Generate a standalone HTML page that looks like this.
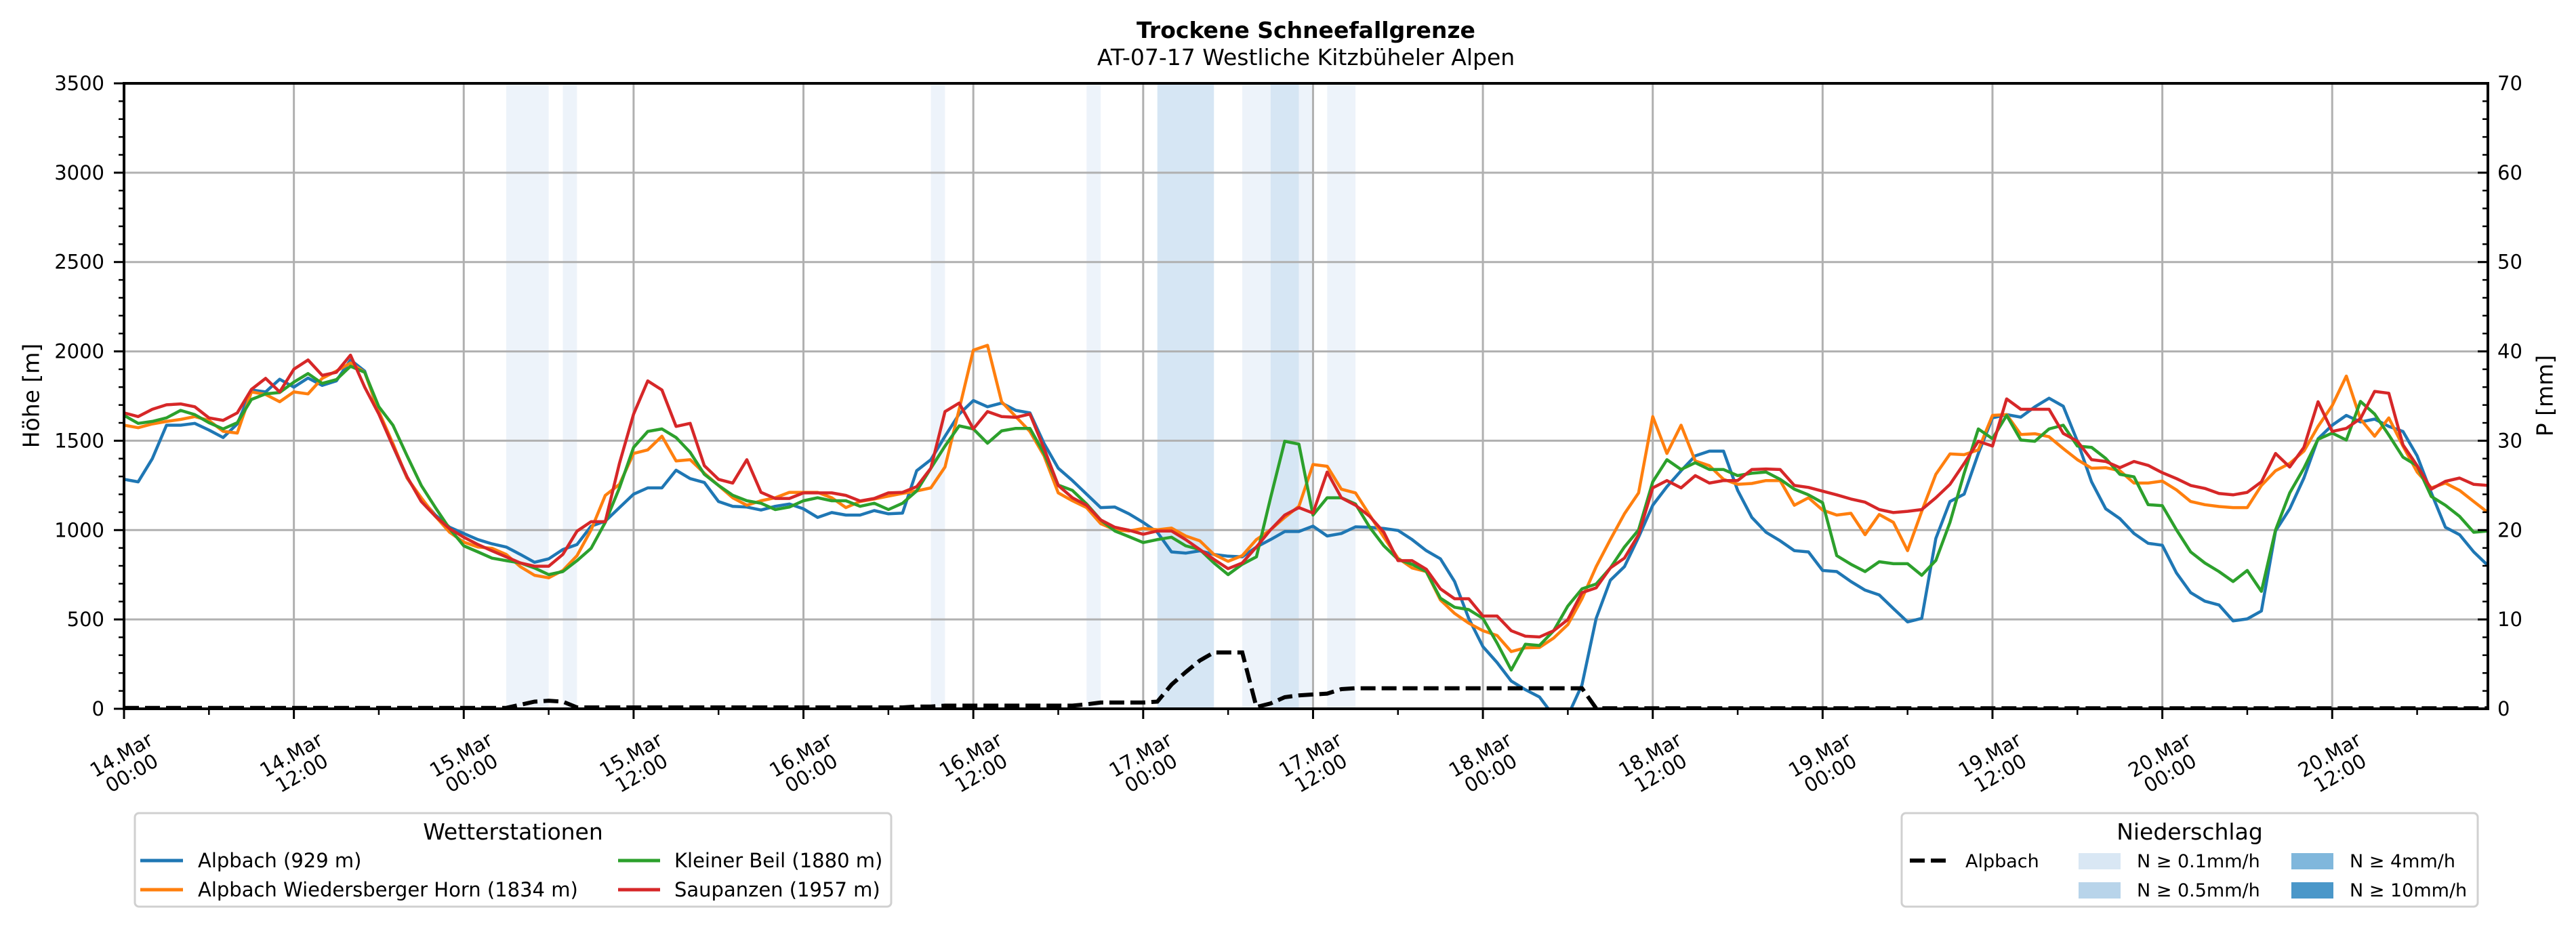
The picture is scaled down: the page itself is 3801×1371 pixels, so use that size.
<!DOCTYPE html>
<html><head><meta charset="utf-8"><style>
html,body{margin:0;padding:0;background:#fff;}
svg{display:block;font-family:"DejaVu Sans","Liberation Sans",sans-serif;}
</style></head><body>
<svg id="chart" width="3801" height="1371" viewBox="0 0 3801 1371" xmlns="http://www.w3.org/2000/svg">
<rect width="3801" height="1371" fill="#fff"/>
<defs><clipPath id="pc"><rect x="183" y="123" width="3488" height="923"/></clipPath></defs>
<text x="1927" y="56" font-size="33" font-weight="bold" text-anchor="middle">Trockene Schneefallgrenze</text>
<text x="1927" y="96" font-size="33" text-anchor="middle">AT-07-17 Westliche Kitzbüheler Alpen</text>
<g id="bands" clip-path="url(#pc)"></g>
<g id="grid"></g>
<g id="series" clip-path="url(#pc)"></g>
<g id="axes"></g>
<text x="48" y="584" font-size="33" text-anchor="middle" dominant-baseline="middle" transform="rotate(-90 48 584)">Höhe [m]</text>
<text x="3757" y="584" font-size="33" text-anchor="middle" dominant-baseline="middle" transform="rotate(-90 3757 584)">P [mm]</text>

<g>
<rect x="199" y="1200" width="1116" height="138" rx="6" fill="#fff" stroke="#d0d0d0" stroke-width="3"/>
<text x="757" y="1239" font-size="33" text-anchor="middle">Wetterstationen</text>
<g><line x1="207" y1="1270" x2="270" y2="1270" stroke="#1f77b4" stroke-width="5"/><text x="292" y="1280" font-size="29">Alpbach (929 m)</text></g>
<g><line x1="207" y1="1313" x2="270" y2="1313" stroke="#ff7f0e" stroke-width="5"/><text x="292" y="1323" font-size="29">Alpbach Wiedersberger Horn (1834 m)</text></g>
<g><line x1="912" y1="1270" x2="974" y2="1270" stroke="#2ca02c" stroke-width="5"/><text x="995" y="1280" font-size="29">Kleiner Beil (1880 m)</text></g>
<g><line x1="912" y1="1313" x2="974" y2="1313" stroke="#d62728" stroke-width="5"/><text x="995" y="1323" font-size="29">Saupanzen (1957 m)</text></g>
</g>
<g>
<rect x="2806" y="1200" width="850" height="138" rx="6" fill="#fff" stroke="#d0d0d0" stroke-width="3"/>
<text x="3231" y="1239" font-size="33" text-anchor="middle">Niederschlag</text>
<g><line x1="2818" y1="1270" x2="2873" y2="1270" stroke="#000" stroke-width="6" stroke-dasharray="22 9"/><text x="2900" y="1280" font-size="27">Alpbach</text></g>
<g><rect x="3067" y="1259" width="62" height="24" fill="#d9e7f4"/><text x="3153" y="1280" font-size="27">N ≥ 0.1mm/h</text></g>
<g><rect x="3067" y="1302" width="62" height="24" fill="#b8d4ea"/><text x="3153" y="1323" font-size="27">N ≥ 0.5mm/h</text></g>
<g><rect x="3381" y="1259" width="62" height="24" fill="#80b7dc"/><text x="3467" y="1280" font-size="27">N ≥ 4mm/h</text></g>
<g><rect x="3381" y="1302" width="62" height="24" fill="#4a97c9"/><text x="3467" y="1323" font-size="27">N ≥ 10mm/h</text></g>
</g>
</svg>
<script>
const hours = Array.from({length:168},(_,i)=>i);
const alpbach = [1284,1270,1400,1587,1587,1597,1560,1518,1594,1784,1773,1844,1800,1851,1810,1835,1952,1890,1656,1470,1291,1174,1084,1016,981,947,923,905,864,820,839,891,919,1022,1050,1126,1201,1236,1236,1335,1288,1266,1160,
1133,1129,1112,1133,1146,1119,1071,1098,1084,1084,1109,1091,1095,1332,1394,1525,1649,1725,1690,1711,1670,1656,1484,1346,1277,1201,1126,1129,1091,1043,988,878,871,884,864,854,850,905,947,992,992,1022,967,
981,1018,1016,1009,998,947,885,839,712,506,348,259,155,107,66,-40,-40,134,506,719,795,960,1139,1243,1332,1415,1442,1442,1222,1071,988,940,885,878,774,768,712,664,637,561,486,506,
953,1160,1201,1429,1628,1646,1632,1690,1738,1693,1497,1270,1119,1064,981,926,915,760,650,602,581,492,503,547,995,1119,1291,1511,1587,1642,1605,1621,1580,1552,1415,1208,1016,974,878,802];
const wiedersberg = [1587,1573,1594,1608,1619,1635,1614,1553,1543,1773,1759,1718,1773,1762,1849,1890,1935,1883,1663,1484,1291,1181,1077,988,933,905,898,864,795,747,733,774,857,1001,1194,1256,1429,1449,1525,1387,1394,1318,1250,
1181,1139,1164,1181,1211,1211,1211,1181,1126,1160,1174,1190,1205,1219,1236,1353,1676,2007,2034,1718,1635,1552,1415,1208,1164,1126,1036,1002,995,1009,1002,1011,967,940,864,825,857,947,1002,1071,1133,1367,1357,
1229,1208,1084,960,843,788,768,609,534,479,437,410,320,341,343,396,471,616,795,947,1091,1208,1635,1429,1587,1387,1360,1284,1256,1261,1277,1277,1139,1181,1112,1084,1094,974,1087,1043,885,1105,
1312,1426,1422,1449,1642,1646,1535,1539,1522,1456,1394,1346,1349,1332,1263,1263,1274,1225,1160,1142,1132,1126,1126,1250,1332,1373,1442,1580,1697,1862,1621,1525,1628,1470,1325,1236,1263,1222,1160,1098];
const kleinerBeil = [1642,1597,1608,1628,1670,1646,1601,1566,1601,1731,1762,1770,1828,1876,1821,1842,1917,1883,1690,1587,1415,1250,1126,1008,912,878,843,829,816,788,751,768,829,898,1043,1236,1463,1552,1566,1518,1435,1312,1250,
1195,1164,1150,1115,1129,1164,1181,1164,1164,1133,1150,1115,1150,1219,1346,1470,1583,1566,1486,1555,1569,1569,1429,1252,1222,1146,1057,995,963,930,947,960,912,891,816,751,809,850,1181,1497,1481,1084,1181,
1181,1146,1016,912,836,809,768,619,568,555,506,368,217,361,354,437,575,671,698,788,905,1001,1270,1394,1339,1377,1339,1339,1305,1318,1325,1284,1229,1197,1153,857,809,768,823,812,812,747,
830,1043,1318,1566,1511,1642,1504,1497,1566,1587,1470,1463,1401,1312,1298,1142,1137,1001,878,816,768,712,774,657,1001,1208,1346,1508,1543,1504,1720,1649,1532,1408,1360,1188,1139,1077,988,995];
const saupanzen = [1656,1635,1676,1701,1706,1690,1628,1614,1656,1787,1849,1773,1900,1952,1866,1883,1979,1800,1649,1470,1298,1160,1077,1008,960,919,884,850,816,798,798,864,994,1047,1047,1373,1649,1835,1784,1580,1597,1360,1284,
1263,1394,1211,1177,1177,1208,1208,1208,1194,1163,1177,1208,1211,1243,1346,1663,1711,1566,1663,1635,1631,1649,1456,1250,1181,1139,1057,1016,999,977,995,995,947,891,836,784,816,905,1002,1084,1126,1095,1325,
1181,1139,1077,988,829,829,781,671,616,616,519,519,437,406,402,437,499,650,677,788,843,974,1236,1277,1236,1305,1263,1277,1277,1339,1342,1339,1250,1239,1218,1197,1174,1156,1115,1098,1105,1115,
1181,1256,1373,1497,1470,1734,1676,1676,1676,1541,1497,1394,1384,1349,1384,1362,1321,1288,1250,1233,1205,1197,1211,1270,1429,1353,1463,1718,1552,1569,1624,1776,1766,1477,1360,1229,1273,1291,1256,1250];
const precipValues = [0.1,0.1,0.1,0.1,0.1,0.1,0.1,0.1,0.1,0.1,0.1,0.1,0.1,0.1,0.1,0.1,0.1,0.1,0.1,0.1,0.1,0.1,0.1,0.1,0.1,0.1,0.1,0.1,0.45,0.8,0.9,0.8,0.15,0.15,0.15,0.15,0.15,0.15,0.15,0.15,0.15,0.15,0.15,0.15,0.15,0.15,0.15,0.15,0.15,0.15,0.15,0.15,0.15,0.15,0.15,0.15,0.25,0.25,0.35,0.35,0.35,0.35,0.35,0.35,0.35,0.35,0.35,0.35,0.5,0.7,0.7,0.7,0.7,0.8,2.7,4.1,5.4,6.3,6.3,6.3,0.2,0.6,1.3,1.5,1.6,1.7,2.2,2.3,2.3,2.3,2.3,2.3,2.3,2.3,2.3,2.3,2.3,2.3,2.3,2.3,2.3,2.3,2.3,2.3,0.05,0.05,0.05,0.05,0.05,0.05,0.05,0.05,0.05,0.05,0.05,0.05,0.05,0.05,0.05,0.05,0.05,0.05,0.05,0.05,0.05,0.05,0.05,0.05,0.05,0.05,0.05,0.05,0.05,0.05,0.05,0.05,0.05,0.05,0.05,0.05,0.05,0.05,0.05,0.05,0.05,0.05,0.05,0.05,0.05,0.05,0.05,0.05,0.05,0.05,0.05,0.05,0.05,0.05,0.05,0.05,0.05,0.05,0.05,0.05,0.05,0.05,0.05,0.05];
const bandStart = [27,31,57,68,73,79,81,83,85];
const bandEnd   = [30,32,58,69,77,81,83,84,87];
const bandLevel = [0,0,0,0,1,0,1,0,0];
const xTickLabels = ["14.Mar|00:00","14.Mar|12:00","15.Mar|00:00","15.Mar|12:00","16.Mar|00:00","16.Mar|12:00","17.Mar|00:00","17.Mar|12:00","18.Mar|00:00","18.Mar|12:00","19.Mar|00:00","19.Mar|12:00","20.Mar|00:00","20.Mar|12:00"];
const yTicks = [0,500,1000,1500,2000,2500,3000,3500];
const y2Ticks = [0,10,20,30,40,50,60,70];

const L=183,R=3671,T=123,B=1046,NH=167;
const xs=h=>L+h*(R-L)/NH;
const ys=v=>B-v*(B-T)/3500;
const yp=v=>B-v*(B-T)/70;
const NS="http://www.w3.org/2000/svg";
function mk(tag,attrs,parent){const e=document.createElementNS(NS,tag);for(const k in attrs)e.setAttribute(k,attrs[k]);parent.appendChild(e);return e;}
const gB=document.getElementById('bands'),gG=document.getElementById('grid'),gS=document.getElementById('series'),gA=document.getElementById('axes');
const bandColors=['#edf3fa','#d6e6f4','#b8d4ea','#80b7dc'];
bandStart.forEach((s,i)=>{
  const r=mk('rect',{x:xs(s),y:T,width:xs(bandEnd[i])-xs(s),height:B-T,fill:bandColors[bandLevel[i]]},gB);
  
  
});
xTickLabels.forEach((t,i)=>{const x=xs(i*12);const l=mk('line',{x1:x,y1:T,x2:x,y2:B,stroke:'#b0b0b0','stroke-width':3},gG);
  
  });
yTicks.forEach(v=>{const y=ys(v);const l=mk('line',{x1:L,y1:y,x2:R,y2:y,stroke:'#b0b0b0','stroke-width':3},gG);
  
  });
function pathOf(arr,sc){return arr.map((v,i)=>(i?'L':'M')+xs(hours[i]).toFixed(1)+' '+sc(v).toFixed(1)).join(' ');}
const series=[[alpbach,'#1f77b4','line-alpbach'],[wiedersberg,'#ff7f0e','line-wiedersberger-horn'],[kleinerBeil,'#2ca02c','line-kleiner-beil'],[saupanzen,'#d62728','line-saupanzen']];
series.forEach(s=>{const p=mk('path',{d:pathOf(s[0],ys),fill:'none',stroke:s[1],'stroke-width':4.5,'stroke-linejoin':'round'},gS);
  
  });
const pp=mk('path',{d:pathOf(precipValues,yp),fill:'none',stroke:'#000','stroke-width':6,'stroke-dasharray':'22 9'},gS);


mk('rect',{x:L,y:T,width:R-L,height:B-T,fill:'none',stroke:'#000','stroke-width':4},gA);
for(let v=0;v<=3500;v+=100){const y=ys(v);const maj=v%500===0;mk('line',{x1:L-(maj?15:8),y1:y,x2:L,y2:y,stroke:'#000','stroke-width':maj?3:2.5},gA);}
yTicks.forEach(v=>{const t=mk('text',{x:154,y:ys(v)+10,'font-size':29,'text-anchor':'end'},gA);t.textContent=v;
  
  });
for(let v=0;v<=70;v+=2){const y=yp(v);const maj=v%10===0;mk('line',{x1:R-(maj?15:8),y1:y,x2:R,y2:y,stroke:'#000','stroke-width':maj?3:2.5},gA);}
y2Ticks.forEach(v=>{const t=mk('text',{x:3685,y:yp(v)+10,'font-size':29,'text-anchor':'start'},gA);t.textContent=v;
  
  });
for(let h=0;h<=NH;h+=6){const x=xs(h);const maj=h%12===0;mk('line',{x1:x,y1:B,x2:x,y2:B+(maj?15:9),stroke:'#000','stroke-width':maj?3:2.5},gA);}
xTickLabels.forEach((lab,i)=>{const x=xs(i*12)+4,cy=1128;const parts=lab.split('|');
  const t=mk('text',{x:x,y:cy,'font-size':29,'text-anchor':'middle',transform:`rotate(-30 ${x} ${cy})`},gA);
  
  
  const a=mk('tspan',{x:x,y:cy-6},t);a.textContent=parts[0];
  const b=mk('tspan',{x:x,y:cy+25},t);b.textContent=parts[1];});
</script>
</body></html>
